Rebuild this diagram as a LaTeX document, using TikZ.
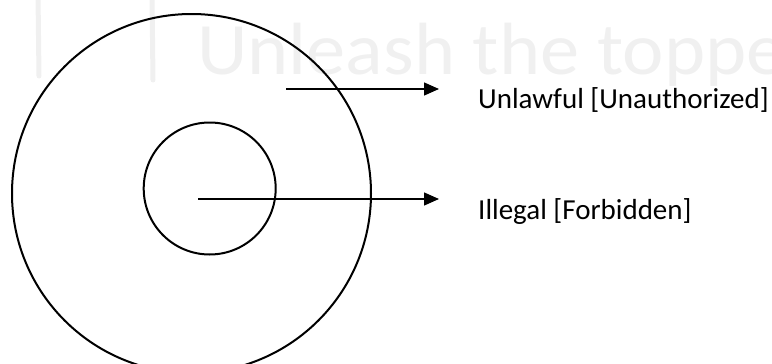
\documentclass[tikz,border=0pt]{standalone}
\usepackage{fontspec}
\setmainfont{Carlito}
\usetikzlibrary{arrows.meta}
\tikzset{
  ring/.style={circle, draw=black, line width=2pt, inner sep=0pt},
  pointer/.style={draw=black, line width=1.3pt, -{Triangle[length=15pt, width=13pt]}},
  lbl/.style={anchor=base west, inner sep=0pt, font=\fontsize{29}{34}\selectfont},
  wmark/.style={anchor=base west, inner sep=0pt, text=black!6, font=\fontsize{74}{80}\selectfont},
  wbar/.style={draw=black!6, line width=5pt, line cap=round}
}
\begin{document}
\begin{tikzpicture}[x=1pt, y=-1pt]
\useasboundingbox (0,0) rectangle (772,364);
\begin{scope}
\clip (0,0) rectangle (772,364);
% faint watermark
\draw[wbar] (38,-5) -- (39,76);
\draw[wbar] (152,-5) -- (153,80);
\node[wmark, xscale=1.06] (wm) at (197,74) {Unleash the toppe};
% circles
\node[ring, minimum size=359pt] (outer) at (191.5,193.5) {};
\node[ring, minimum size=132pt] (inner) at (209.7,188.5) {};
\end{scope}
% arrows
\coordinate (s1) at (286,89);
\coordinate (e1) at (439,89);
\coordinate (s2) at (198,199);
\coordinate (e2) at (439,199);
\draw[pointer] (s1) -- (e1);
\draw[pointer] (s2) -- (e2);
\node[lbl] (l1) at (478,108) {Unlawful [Unauthorized]};
\node[lbl] (l2) at (478,219) {Illegal [Forbidden]};
\end{tikzpicture}
\end{document}
